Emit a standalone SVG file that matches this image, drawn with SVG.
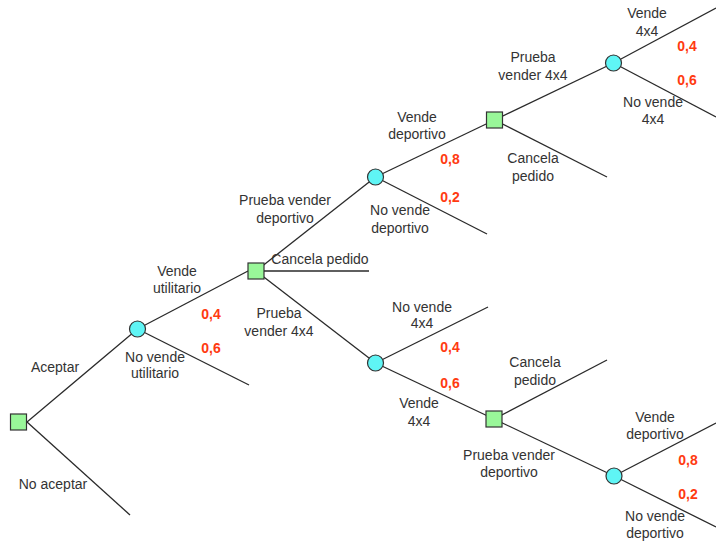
<svg xmlns="http://www.w3.org/2000/svg" width="716" height="542" viewBox="0 0 716 542">
<style>
.c line{stroke:#2a2a2a;stroke-width:1.3;fill:none}
.dec{fill:#99f799;stroke:#333;stroke-width:1.2}
.chn{fill:#5ff5f5;stroke:#333;stroke-width:1.2}
text{font-family:"Liberation Sans",Arial,sans-serif;font-size:14px;fill:#333;text-anchor:middle}
text.p{fill:#ff3a10;font-weight:bold}
</style>
<rect width="716" height="542" fill="#fff"/>
<g class="c" id="connectors">
<line x1="27" y1="422" x2="137.5" y2="329"/>
<line x1="27" y1="422" x2="130" y2="515"/>
<line x1="137.5" y1="329" x2="248" y2="271"/>
<line x1="137.5" y1="329" x2="249" y2="385"/>
<line x1="256" y1="271" x2="369" y2="271"/>
<line x1="256" y1="271" x2="375.5" y2="177"/>
<line x1="256" y1="271" x2="375.5" y2="363"/>
<line x1="375.5" y1="177" x2="494.5" y2="120"/>
<line x1="375.5" y1="177" x2="487" y2="234"/>
<line x1="494.5" y1="120" x2="613.5" y2="63"/>
<line x1="494.5" y1="120" x2="607" y2="177"/>
<line x1="613.5" y1="63" x2="716" y2="8"/>
<line x1="613.5" y1="63" x2="716" y2="117"/>
<line x1="375.5" y1="363" x2="488" y2="307"/>
<line x1="375.5" y1="363" x2="494" y2="419"/>
<line x1="494" y1="419" x2="607" y2="360"/>
<line x1="494" y1="419" x2="614" y2="476"/>
<line x1="614" y1="476" x2="716" y2="423"/>
<line x1="614" y1="476" x2="716" y2="527"/>
</g>
<g id="n_root"><rect class="dec" x="10.5" y="414" width="16" height="16"/></g>
<g id="n_c1"><circle class="chn" cx="137.5" cy="329" r="8"/></g>
<g id="n_d2"><rect class="dec" x="248" y="263" width="16" height="16"/></g>
<g id="n_c3"><circle class="chn" cx="375.5" cy="177" r="8"/></g>
<g id="n_c4"><circle class="chn" cx="375.5" cy="363" r="8"/></g>
<g id="n_d3"><rect class="dec" x="486.5" y="112" width="16" height="16"/></g>
<g id="n_d4"><rect class="dec" x="486" y="411" width="16" height="16"/></g>
<g id="n_c5"><circle class="chn" cx="613.5" cy="63" r="8"/></g>
<g id="n_c6"><circle class="chn" cx="614" cy="476" r="8"/></g>
<g id="labels">
<text x="55" y="372">Aceptar</text>
<text x="53" y="489">No aceptar</text>
<text x="177" y="276">Vende</text>
<text x="177" y="293">utilitario</text>
<text class="p" x="211" y="319">0,4</text>
<text class="p" x="211" y="353">0,6</text>
<text x="155" y="362">No vende</text>
<text x="155" y="378">utilitario</text>
<text x="285" y="205">Prueba vender</text>
<text x="285" y="223">deportivo</text>
<text x="320" y="264">Cancela pedido</text>
<text x="279" y="318">Prueba</text>
<text x="279" y="336">vender 4x4</text>
<text x="417" y="122">Vende</text>
<text x="417" y="139">deportivo</text>
<text class="p" x="450" y="164">0,8</text>
<text class="p" x="450" y="202">0,2</text>
<text x="400" y="215">No vende</text>
<text x="400" y="233">deportivo</text>
<text x="533" y="62">Prueba</text>
<text x="533" y="80">vender 4x4</text>
<text x="533" y="163">Cancela</text>
<text x="533" y="181">pedido</text>
<text x="647" y="18">Vende</text>
<text x="647" y="36">4x4</text>
<text class="p" x="687" y="51">0,4</text>
<text class="p" x="687" y="85">0,6</text>
<text x="653" y="107">No vende</text>
<text x="653" y="124">4x4</text>
<text x="422" y="312">No vende</text>
<text x="422" y="328">4x4</text>
<text class="p" x="450" y="352">0,4</text>
<text class="p" x="450" y="388">0,6</text>
<text x="419" y="408">Vende</text>
<text x="419" y="426">4x4</text>
<text x="535" y="367">Cancela</text>
<text x="535" y="385">pedido</text>
<text x="509" y="460">Prueba vender</text>
<text x="509" y="477">deportivo</text>
<text x="655" y="422">Vende</text>
<text x="655" y="439">deportivo</text>
<text class="p" x="688" y="465">0,8</text>
<text class="p" x="688" y="499">0,2</text>
<text x="655" y="521">No vende</text>
<text x="655" y="538">deportivo</text>
</g>
</svg>
